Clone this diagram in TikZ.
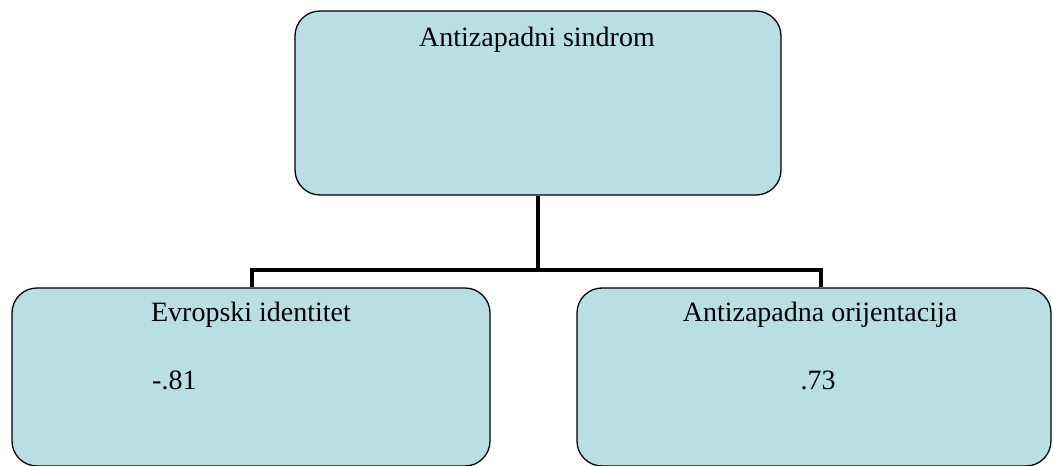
\documentclass[tikz,border=0pt]{standalone}
\usepackage{fontspec}
\setmainfont{Liberation Serif}
\usepackage{xcolor}
\definecolor{boxFill}{RGB}{185,223,227}

\begin{document}
\begin{tikzpicture}
		[x=1pt,y=1pt,
		boxDecorate/.style={shape=rectangle,draw,line width=1.3pt,rounded corners=25pt,fill=boxFill},
		textDecorate/.style={anchor=base,inner sep=0pt,font=\fontsize{28}{34}\selectfont},
		lineDecorate/.style={-,line width=4pt}]
		\useasboundingbox (0,0) rectangle (1053,466);
		%% boxes
		\foreach \nodename/\x/\y/\w/\h in {
			S/538/363/486/184, E/251/89/478/178, O/814/89/474/178}
		{
			\node (\nodename) at (\x,\y) [boxDecorate,minimum width=\w,minimum height=\h] {};
		}
		%% texts
		\node (Stitle) at (537,419) [textDecorate] {Antizapadni sindrom};
		\node (Etitle) at (251,144) [textDecorate] {Evropski identitet};
		\node (Evalue) at (152,76) [textDecorate,anchor=base west] {-.81};
		\node (Otitle) at (820,144) [textDecorate] {Antizapadna orijentacija};
		\node (Ovalue) at (818,76) [textDecorate] {.73};
		%% connectors
		\coordinate (J) at (538,196);
		\draw[lineDecorate] (S.south) -- (J);
		\draw[lineDecorate] ([xshift=1pt]E.north) |- (J) -| ([xshift=7pt]O.north);
	\end{tikzpicture}
\end{document}
